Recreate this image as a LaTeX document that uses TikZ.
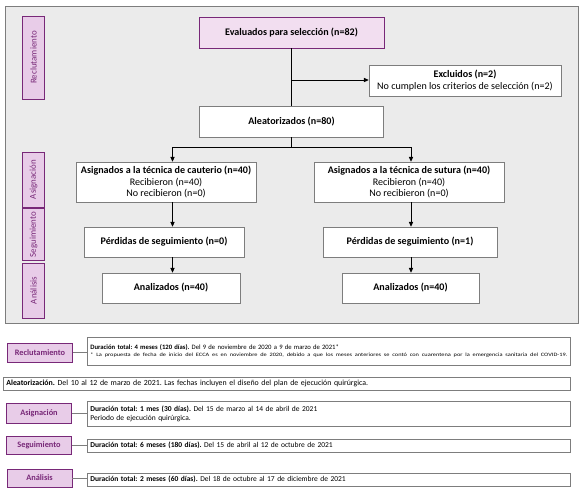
\documentclass[tikz,border=0pt]{standalone}
\usepackage{graphicx}
\usepackage{fontspec}
\setmainfont{Carlito}
\usetikzlibrary{positioning, arrows.meta}
\definecolor{fondo}{RGB}{235,235,235}
\definecolor{rosa}{RGB}{232,204,232}
\definecolor{rosaclaro}{RGB}{242,222,240}
\definecolor{morado}{RGB}{120,40,120}
\definecolor{borde}{RGB}{125,125,125}
\frenchspacing

\begin{document}
\begin{tikzpicture}[x=0.03cm, y=-0.03cm,
  caja/.style={draw=borde, line width=0.6pt, fill=white, inner sep=0pt, align=center, font=\fontsize{8.6}{9.8}\selectfont},
  etapa/.style={draw=morado, line width=0.6pt, fill=rosa, inner sep=0pt, text=morado, rotate=90, minimum height=0.65cm, font=\fontsize{7.6}{8}\selectfont},
  fase/.style={draw=morado, line width=0.6pt, fill=rosa, inner sep=0pt, text=morado, minimum width=1.95cm, font=\bfseries\fontsize{7.1}{8}\selectfont},
  detalle/.style={draw=borde, line width=0.6pt, fill=white, anchor=west, align=left, inner xsep=0.09cm, inner ysep=0pt, text width=14.31cm, font=\fontsize{6.4}{7.8}\selectfont},
  flecha/.style={-{Triangle[length=4pt,width=3.6pt]}, line width=0.7pt},
  linea/.style={line width=0.7pt}]
\useasboundingbox (0,0) rectangle (583,493);
% panel del diagrama
\draw[draw=borde, fill=fondo, line width=0.6pt] (5,6) rectangle (578,323);

% etiquetas laterales
\node[etapa, minimum width=2.49cm] (eReclut) at (33.5,57.5) {Reclutamiento};
\node[etapa, minimum width=1.65cm] (eAsig) at (33.5,179.5) {Asignación};
\node[etapa, minimum width=1.56cm] (eSeg) at (33.5,234.5) {Seguimiento};
\node[etapa, minimum width=1.65cm] (eAnal) at (33.5,290.5) {Análisis};

% cajas
\node[caja, fill=rosaclaro, draw=morado, minimum width=5.55cm, minimum height=0.93cm] (evaluados) at (291.5,32.5) {\textbf{Evaluados para selección (n=82)}};
\node[caja, minimum width=5.76cm, minimum height=0.93cm] (excluidos) at (465,80.5) {\textbf{Excluidos (n=2)}\\No cumplen los criterios de selección (n=2)};
\node[caja, minimum width=5.52cm, minimum height=0.93cm] (aleat) at (291.5,121.5) {\textbf{Aleatorizados (n=80)}};
\node[caja, minimum width=5.4cm, minimum height=1.2cm] (asigL) at (166,182) {\textbf{Asignados a la técnica de cauterio (n=40)}\\Recibieron (n=40)\\No recibieron (n=0)};
\node[caja, minimum width=5.7cm, minimum height=1.2cm] (asigR) at (409,182) {\textbf{Asignados a la técnica de sutura (n=40)}\\Recibieron (n=40)\\No recibieron (n=0)};
\node[caja, minimum width=4.8cm, minimum height=0.9cm] (perdL) at (164,242) {\textbf{Pérdidas de seguimiento (n=0)}};
\node[caja, minimum width=5.22cm, minimum height=0.9cm] (perdR) at (410,242) {\textbf{Pérdidas de seguimiento (n=1)}};
\node[caja, minimum width=4.14cm, minimum height=0.9cm] (anaL) at (171,288) {\textbf{Analizados (n=40)}};
\node[caja, minimum width=4.11cm, minimum height=0.9cm] (anaR) at (410.5,288) {\textbf{Analizados (n=40)}};

% conectores
\coordinate (rama) at (291.5,80);
\coordinate (ramaL) at (172.5,147);
\coordinate (ramaR) at (411,147);
\draw[linea] (evaluados) -- (aleat);
\draw[flecha] (rama) -- (rama -| excluidos.west);
\draw[linea] (aleat.south) -- (aleat.south |- ramaL);
\draw[linea] (ramaL) -- (ramaR);
\draw[flecha] (ramaL) -- (ramaL |- asigL.north);
\draw[flecha] (ramaR) -- (ramaR |- asigR.north);
\draw[flecha] (asigL.south -| ramaL) -- (perdL.north -| ramaL);
\draw[flecha] (asigR.south -| ramaR) -- (perdR.north -| ramaR);
\draw[flecha] (perdL.south -| ramaL) -- (anaL.north -| ramaL);
\draw[flecha] (perdR.south -| ramaR) -- (anaR.north -| ramaR);

% cronograma
\node[fase, minimum height=0.57cm] (fReclut) at (40,352.5) {Reclutamiento};
\node[detalle, minimum height=0.84cm, font=\fontsize{5.7}{7.4}\selectfont] (dReclut) at (87,351) {\textbf{Duración total: 4 meses (120 días).} Del 9 de noviembre de 2020 a 9 de marzo de 2021*\\[-1pt]
  \resizebox{14.31cm}{\height}{\fontsize{4.3}{5}\selectfont * La propuesta de fecha de inicio del ECCA es en noviembre de 2020, debido a que los meses anteriores se contó con cuarentena por la emergencia sanitaria del COVID-19.}};
\node[detalle, text width=16.83cm, minimum height=0.39cm, font=\fontsize{6.7}{7.6}\selectfont] (dAleat) at (3,383.5) {\textbf{Aleatorización.} Del 10 al 12 de marzo de 2021. Las fechas incluyen el diseño del plan de ejecución quirúrgica.};
\node[fase, minimum height=0.6cm] (fAsig) at (39,413) {Asignación};
\node[detalle, minimum height=0.75cm] (dAsig) at (87,413.5) {\textbf{Duración total: 1 mes (30 días).} Del 15 de marzo al 14 de abril de 2021\\Periodo de ejecución quirúrgica.};
\node[fase, minimum height=0.54cm] (fSeg) at (39,445) {Seguimiento};
\node[detalle, minimum height=0.39cm] (dSeg) at (87,445.5) {\textbf{Duración total: 6 meses (180 días).} Del 15 de abril al 12 de octubre de 2021};
\node[fase, minimum height=0.54cm] (fAnal) at (39.5,478) {Análisis};
\node[detalle, minimum height=0.39cm] (dAnal) at (87,479.5) {\textbf{Duración total: 2 meses (60 días).} Del 18 de octubre al 17 de diciembre de 2021};
\draw[linea, draw=borde] (fReclut.east) -- (fReclut.east -| dReclut.west);
\draw[linea, draw=borde] (fAsig.east) -- (fAsig.east -| dAsig.west);
\draw[linea, draw=borde] (fSeg.east) -- (fSeg.east -| dSeg.west);
\draw[linea, draw=borde] (fAnal.east) -- (fAnal.east -| dAnal.west);
\end{tikzpicture}
\end{document}
